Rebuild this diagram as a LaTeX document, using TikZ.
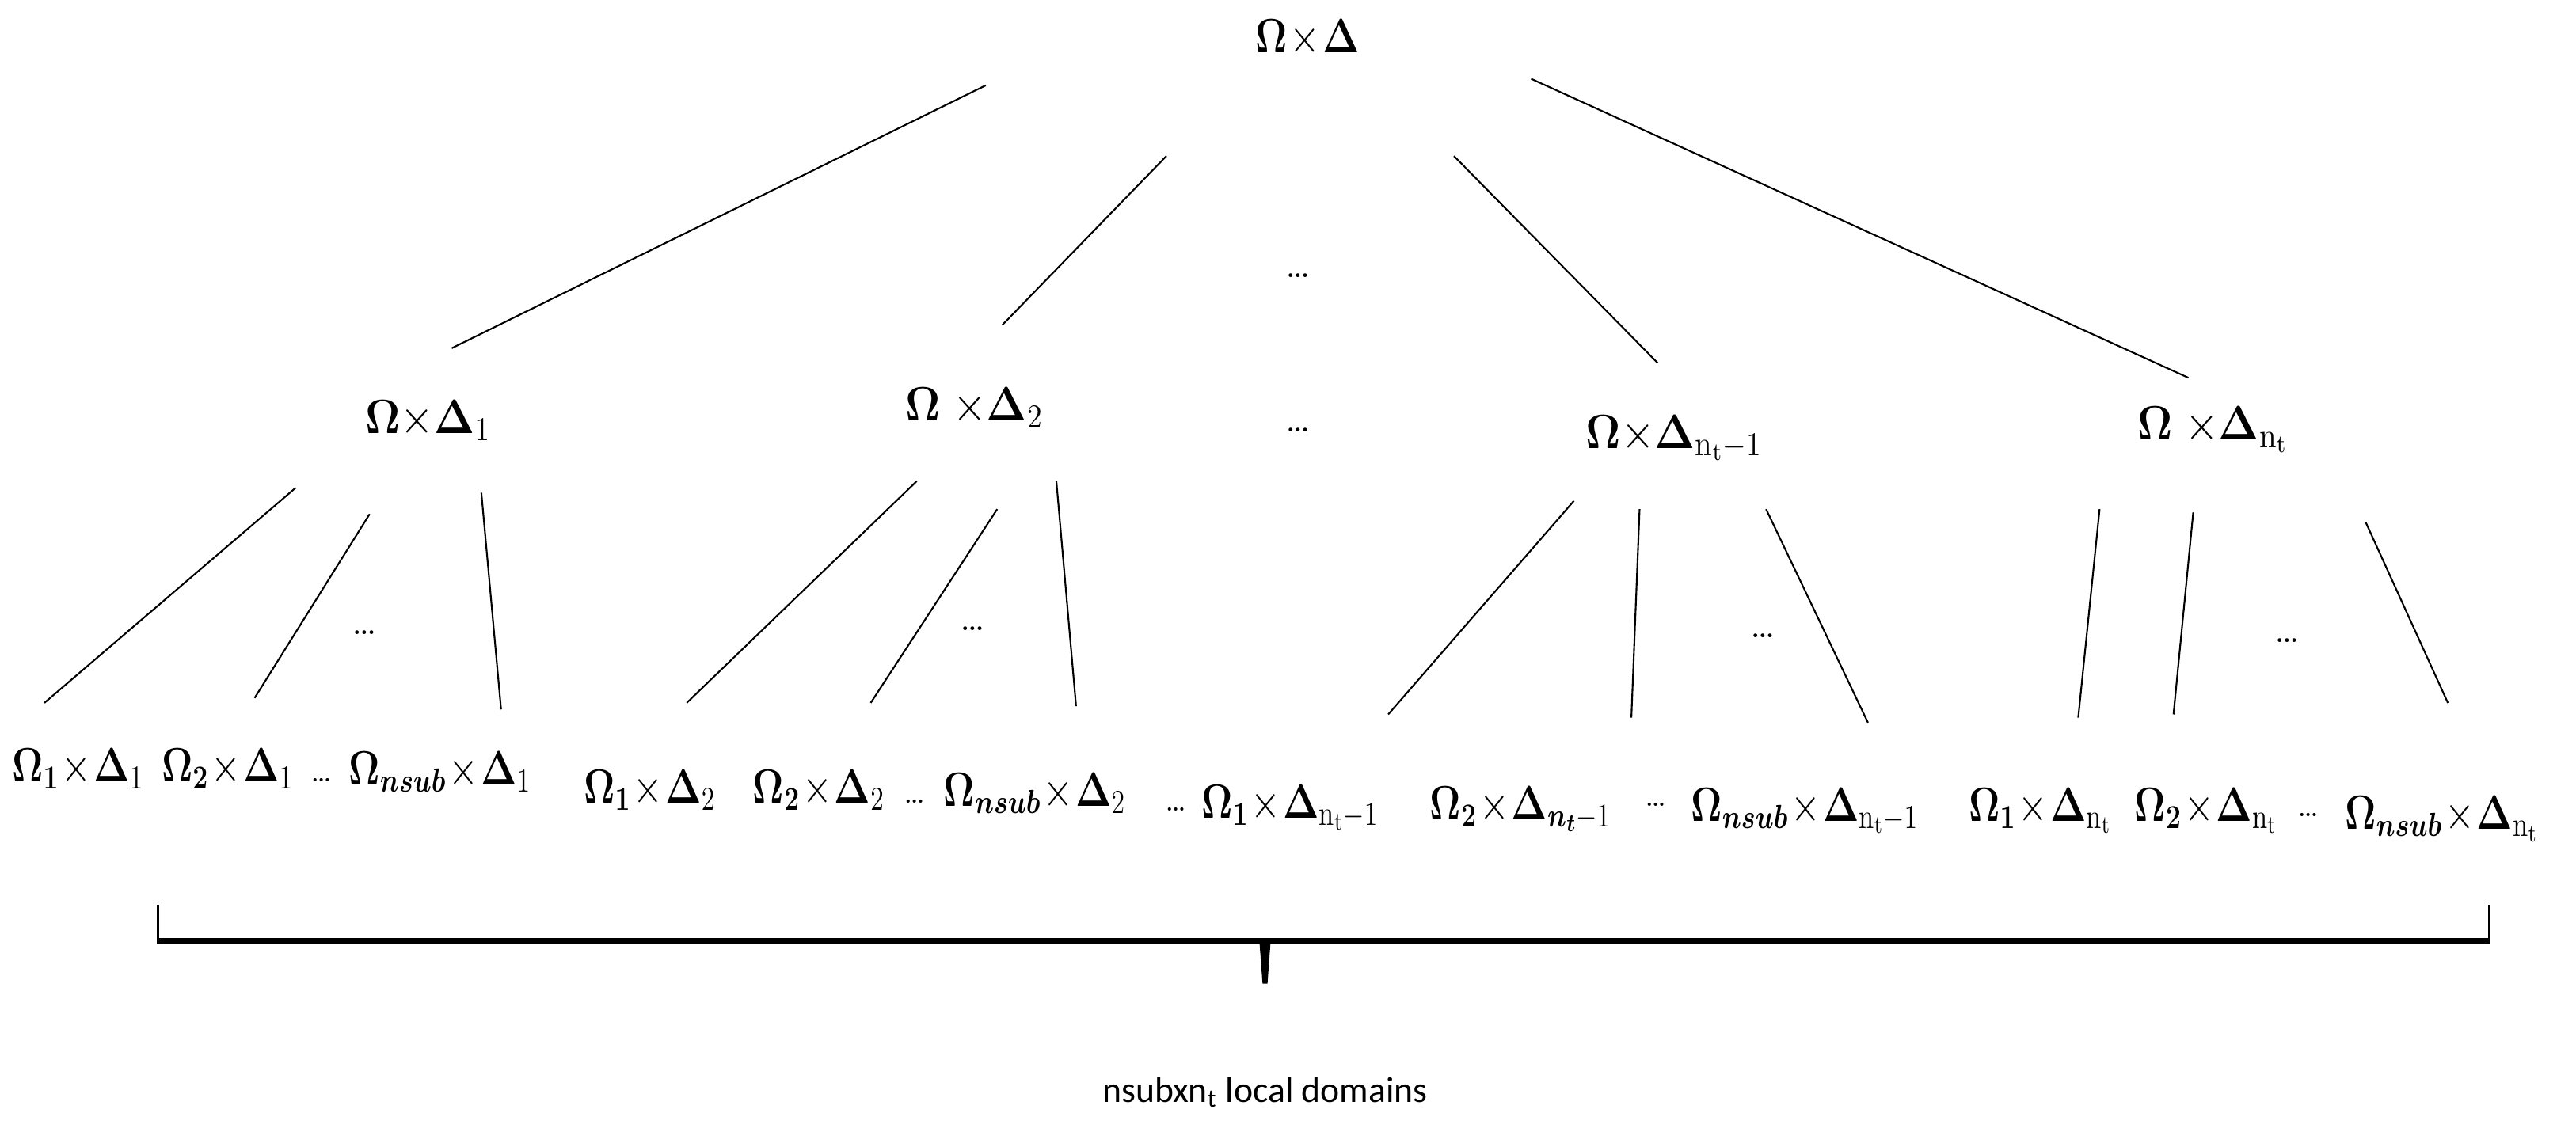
\documentclass[tikz,border=0pt]{standalone}
\usepackage{amsmath,bm,graphicx}
\usepackage{fontspec}
\newfontfamily\calibrifont{Carlito}
\newcommand{\myOm}{\bm{\Omega}}
\newcommand{\myDe}{\bm{\Delta}}
\newcommand{\myX}{\mkern1mu{\times}\mkern1mu}
\newcommand{\cnd}[1]{\scalebox{0.8}[1]{#1}}
\newcommand{\cndm}[1]{\scalebox{0.9}[1]{#1}}
\newcommand{\cndt}[1]{\scalebox{0.82}[1]{#1}}
\tikzset{
  lbl/.style={inner sep=0pt, anchor=base west, font=\fontsize{18}{21}\selectfont},
  toplbl/.style={inner sep=0pt, anchor=base west, font=\fontsize{18}{21}\selectfont},
  midlbl/.style={inner sep=0pt, anchor=base west, font=\fontsize{18}{21}\selectfont},
  tdots/.style={inner sep=0pt, anchor=center, font=\fontsize{14}{16}\selectfont},
  bdots/.style={inner sep=0pt, anchor=base west, font=\fontsize{12}{14}\selectfont},
  edge/.style={line width=0.6pt},
}
\begin{document}
\begin{tikzpicture}[x=0.020746cm, y=-0.020746cm]
\useasboundingbox[fill=white] (0,0) rectangle (1568,689);
% top
\node[toplbl] (top) at (764,32) {\cndt{$\myOm\myX\myDe$}};
% level 2
\node[midlbl] (L1) at (222,264) {\cndm{$\myOm{\times}\myDe_{1}$}};
\node[midlbl] (L2) at (551,256) {\cndm{$\myOm\;{\times}\myDe_{2}$}};
\node[midlbl] (L3) at (965,273) {\cndm{$\myOm{\times}\myDe_{\mathrm{n_t}-1}$}};
\node[midlbl] (L4) at (1301,268) {\cndm{$\myOm\;{\times}\myDe_{\mathrm{n_t}}$}};
\node[tdots] (d0) at (790,168) {\ldots};
\node[tdots] (dL) at (790,262) {\ldots};
% group dots
\node[tdots] (g1) at (222,385) {\ldots};
\node[tdots] (g2) at (592,383) {\ldots};
\node[tdots] (g3) at (1073,387) {\ldots};
\node[tdots] (g4) at (1392,390) {\ldots};
% bottom row
\node[lbl] (b11) at (7,476) {\cnd{$\myOm_{\bm 1}\myX\myDe_{1}$}};
\node[lbl] (b21) at (98,476) {\cnd{$\myOm_{\bm 2}\myX\myDe_{1}$}};
\node[bdots] (bd1) at (189,476) {\ldots};
\node[lbl] (bn1) at (212,478) {\cnd{$\myOm_{\bm{nsub}}\myX\myDe_{1}$}};
\node[lbl] (b12) at (355,489) {\cnd{$\myOm_{\bm 1}\myX\myDe_{2}$}};
\node[lbl] (b22) at (458,489) {\cnd{$\myOm_{\bm 2}\myX\myDe_{2}$}};
\node[bdots] (bd2) at (550,489) {\ldots};
\node[lbl] (bn2) at (574,491) {\cnd{$\myOm_{\bm{nsub}}\myX\myDe_{2}$}};
\node[bdots] (bd3) at (709,494) {\ldots};
\node[lbl] (b1a) at (731,498) {\cnd{$\myOm_{\bm 1}\myX\myDe_{\mathrm{n_t}-1}$}};
\node[lbl] (b2a) at (870,499) {\cnd{$\myOm_{\bm 2}\myX\myDe_{\bm{n_t}-1}$}};
\node[bdots] (bd4) at (1001,491) {\ldots};
\node[lbl] (bna) at (1029,500) {\cnd{$\myOm_{\bm{nsub}}\myX\myDe_{\mathrm{n_t}-1}$}};
\node[lbl] (b1b) at (1198,500) {\cnd{$\myOm_{\bm 1}\myX\myDe_{\mathrm{n_t}}$}};
\node[lbl] (b2b) at (1299,500) {\cnd{$\myOm_{\bm 2}\myX\myDe_{\mathrm{n_t}}$}};
\node[bdots] (bd5) at (1398,497) {\ldots};
\node[lbl] (bnb) at (1427,505) {\cnd{$\myOm_{\bm{nsub}}\myX\myDe_{\mathrm{n_t}}$}};
% connector end points
\coordinate (c1a) at (600,52);  \coordinate (c1b) at (275,212);
\coordinate (c2a) at (710,95);  \coordinate (c2b) at (610,198);
\coordinate (c3a) at (885,95);  \coordinate (c3b) at (1009,221);
\coordinate (c4a) at (932,48);  \coordinate (c4b) at (1332,230);
\draw[edge] (c1a) -- (c1b);
\draw[edge] (c2a) -- (c2b);
\draw[edge] (c3a) -- (c3b);
\draw[edge] (c4a) -- (c4b);
% group 1
\coordinate (e11a) at (180,297); \coordinate (e11b) at (27,428);
\coordinate (e12a) at (225,313); \coordinate (e12b) at (155,425);
\coordinate (e13a) at (293,300); \coordinate (e13b) at (305,432);
% group 2
\coordinate (e21a) at (558,293); \coordinate (e21b) at (418,428);
\coordinate (e22a) at (607,310); \coordinate (e22b) at (530,428);
\coordinate (e23a) at (643,293); \coordinate (e23b) at (655,430);
% group 3
\coordinate (e31a) at (958,305); \coordinate (e31b) at (845,435);
\coordinate (e32a) at (998,310); \coordinate (e32b) at (993,437);
\coordinate (e33a) at (1075,310); \coordinate (e33b) at (1137,440);
% group 4
\coordinate (e41a) at (1278,310); \coordinate (e41b) at (1265,437);
\coordinate (e42a) at (1335,312); \coordinate (e42b) at (1323,435);
\coordinate (e43a) at (1440,318); \coordinate (e43b) at (1490,428);
\foreach \g in {1,2,3,4}{
  \foreach \k in {1,2,3}{
    \draw[edge] (e\g\k a) -- (e\g\k b);
  }
}
% brace
\coordinate (brL) at (96,551);
\coordinate (brR) at (1515,551);
\draw[line width=0.8pt] (brL) -- (96,573);
\draw[line width=0.8pt] (brR) -- (1515,573);
\draw[line width=2pt] (95.5,573) -- (1515.5,573);
\fill (766.5,572) -- (773.5,572) -- (771.5,599) -- (768.5,599) -- cycle;
\node[inner sep=0pt, font=\calibrifont\fontsize{13}{15}\selectfont] (cap) at (770,665) {nsubxn\textsubscript{t} local domains};
\end{tikzpicture}
\end{document}
